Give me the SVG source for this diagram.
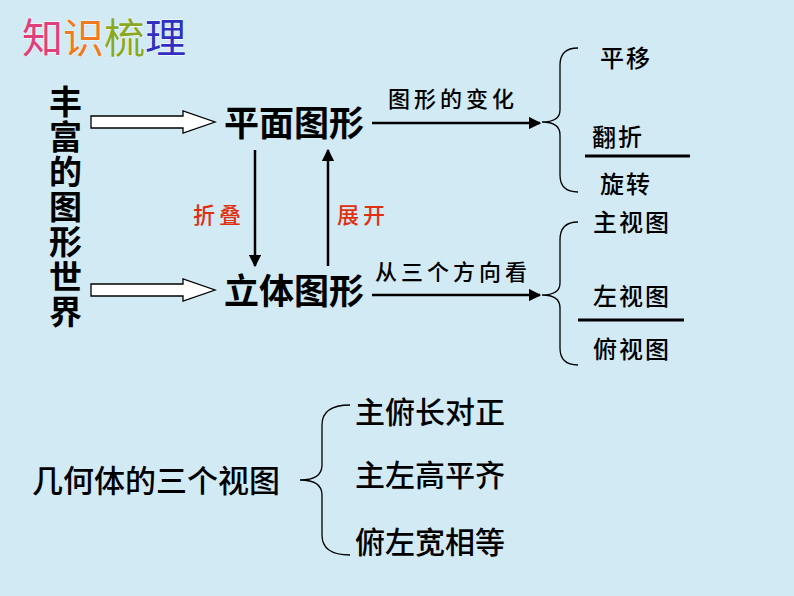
<svg xmlns="http://www.w3.org/2000/svg" width="794" height="596" viewBox="0 0 794 596">
<defs>
<style>
text{font-family:"Noto Sans CJK SC","Liberation Sans",sans-serif;fill:#000;font-weight:500}
.b{font-weight:bold}
.s{font-size:22px;letter-spacing:4px}
.r{font-size:24px;letter-spacing:2px}
.v{font-size:33px;font-weight:bold}
.br{fill:none;stroke:#000;stroke-width:1.3}
.ln{stroke:#000;stroke-width:3}
.hol{fill:#fff;stroke:#000;stroke-width:1.3}
.ti{font-size:41px;font-weight:normal;stroke:#fff;stroke-width:0.8;paint-order:stroke}
</style>
<marker id="ah" viewBox="0 0 10 10" refX="9" refY="5" markerWidth="5" markerHeight="5" orient="auto"><path d="M0,0 L10,5 L0,10 z" fill="#000"/></marker>
</defs>
<rect width="794" height="596" fill="#d2eaf4"/>
<g id="title">
<text x="22" y="53" class="ti"><tspan fill="#e0407a">知</tspan><tspan fill="#f07a20">识</tspan><tspan fill="#8aa820">梳</tspan><tspan fill="#3030c0">理</tspan></text>
</g>
<g id="world">
<text class="v" x="49" y="114">丰</text>
<text class="v" x="49" y="149">富</text>
<text class="v" x="49" y="184">的</text>
<text class="v" x="49" y="219">图</text>
<text class="v" x="49" y="254">形</text>
<text class="v" x="49" y="289">世</text>
<text class="v" x="49" y="324">界</text>
</g>
<g id="plane"><text class="b" font-size="35" x="224" y="136">平面图形</text></g>
<g id="solid"><text class="b" font-size="35" x="224" y="304">立体图形</text></g>
<g id="right1">
<text class="r" x="600" y="67">平移</text>
<text class="r" x="592" y="146">翻折</text>
<text class="r" x="600" y="193">旋转</text>
</g>
<g id="right2">
<text class="r" x="593" y="231">主视图</text>
<text class="r" x="593" y="305">左视图</text>
<text class="r" x="593" y="358">俯视图</text>
</g>
<g id="views">
<text font-size="31" x="32" y="492">几何体的三个视图</text>
<text font-size="30" x="355" y="423">主俯长对正</text>
<text font-size="30" x="355" y="486">主左高平齐</text>
<text font-size="30" x="355" y="553">俯左宽相等</text>
</g>
<g id="connectors">
<path class="hol" d="M91,116 H183 V111 L215,122 L183,133 V128 H91 Z"/>
<path class="hol" d="M91,284 H183 V279 L215,290 L183,301 V296 H91 Z"/>
<line x1="372" y1="123" x2="540" y2="123" stroke="#000" stroke-width="2.5" marker-end="url(#ah)"/>
<line x1="372" y1="295" x2="540" y2="295" stroke="#000" stroke-width="2.5" marker-end="url(#ah)"/>
<line x1="255" y1="150" x2="255" y2="266" stroke="#000" stroke-width="2.5" marker-end="url(#ah)"/>
<line x1="328" y1="266" x2="328" y2="150" stroke="#000" stroke-width="2.5" marker-end="url(#ah)"/>
<text class="s" x="388" y="107">图形的变化</text>
<text class="s" x="375" y="280">从三个方向看</text>
<text class="s" x="193" y="223" style="fill:#e03010">折叠</text>
<text class="s" x="337" y="223" style="fill:#e03010">展开</text>
<path class="br" d="M578,48 Q560,48 560,65 V110 Q560,122 542,122 Q560,122 560,135 V175 Q560,192 578,192"/>
<path class="br" d="M578,222 Q560,222 560,240 V283 Q560,295 542,295 Q560,295 560,308 V348 Q560,365 578,365"/>
<path class="br" d="M350,405 Q322,405 322,425 V465 Q322,480 300,480 Q322,480 322,495 V535 Q322,555 350,555"/>
<line class="ln" x1="585" y1="156" x2="690" y2="156"/>
<line class="ln" x1="578" y1="320" x2="684" y2="320"/>
</g>
</svg>
